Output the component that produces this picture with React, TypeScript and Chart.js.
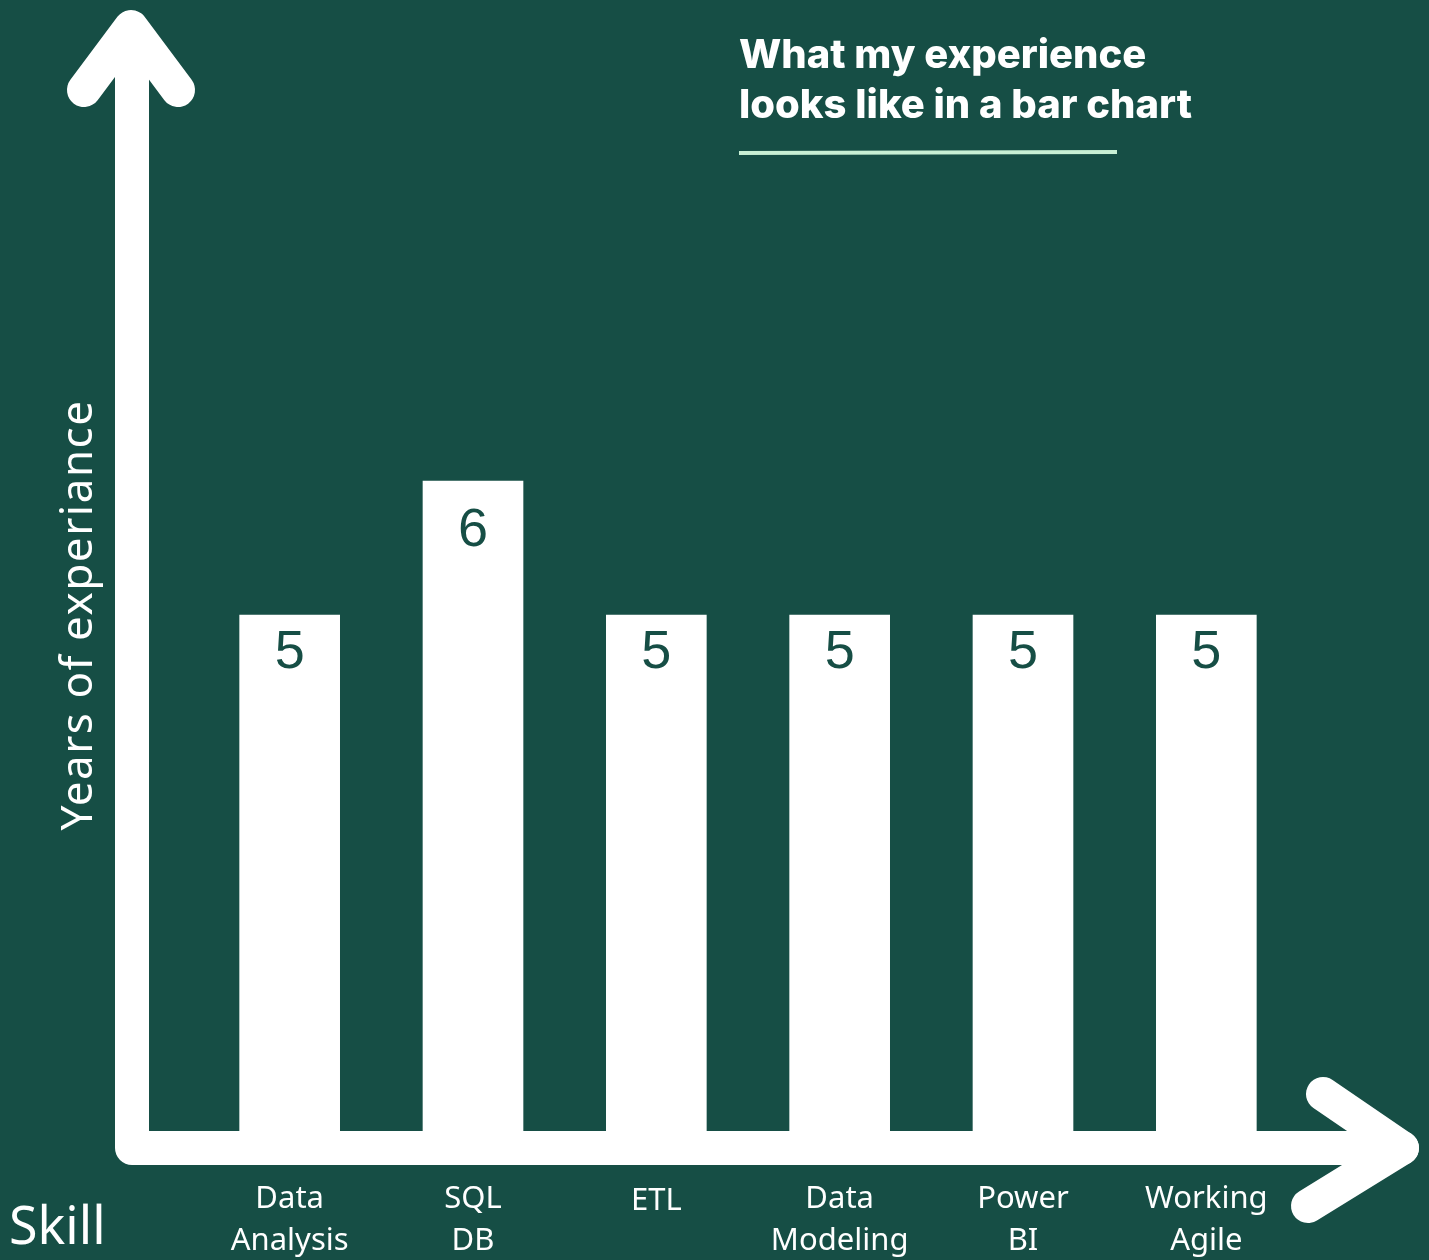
import React, { useEffect, useRef } from "react";
import { Chart, registerables } from "chart.js";

Chart.register(...registerables);

// ---- data ----
const skills: string[][] = [
  ["Data", "Analysis"],
  ["SQL", "DB"],
  ["ETL"],
  ["Data", "Modeling"],
  ["Power", "BI"],
  ["Working", "Agile"],
];
const years: number[] = [5, 6, 5, 5, 5, 5];
const titleLines: string[] = ["What my experience", "looks like in a bar chart"];
const yAxisTitle = "Years of experiance";
const xAxisTitle = "Skill";

// ---- style ----
const BG = "#164e45";
const WHITE = "#ffffff";
const MINT = "#c8f0d5";
const W = 1429;
const H = 1260;

const decorPlugin = {
  id: "decor",
  beforeDraw(chart: any) {
    const ctx = chart.ctx;
    ctx.save();
    ctx.fillStyle = BG;
    ctx.fillRect(0, 0, chart.width, chart.height);
    ctx.restore();
  },
  afterDatasetsDraw(chart: any) {
    const ctx = chart.ctx;
    const meta = chart.getDatasetMeta(0);
    ctx.save();
    ctx.fillStyle = BG;
    ctx.font = '54px "Liberation Sans", Arial, sans-serif';
    ctx.textAlign = "center";
    ctx.textBaseline = "middle";
    meta.data.forEach((bar: any, i: number) => {
      ctx.fillText(String(years[i]), bar.x, bar.y + (years[i] > 5 ? 50 : 38));
    });
    ctx.restore();
  },
  afterDraw(chart: any) {
    const ctx = chart.ctx;
    const area = chart.chartArea;
    const xScale = chart.scales.x;
    ctx.save();
    // axes arrows
    ctx.strokeStyle = WHITE;
    ctx.lineWidth = 34;
    ctx.lineCap = "round";
    ctx.lineJoin = "round";
    const ax = 132;
    const ay = area.bottom + 17;
    ctx.beginPath();
    ctx.moveTo(ax, 30);
    ctx.lineTo(ax, ay);
    ctx.lineTo(1402, ay);
    ctx.stroke();
    // up arrow head
    ctx.beginPath();
    ctx.moveTo(84, 90);
    ctx.lineTo(131, 27);
    ctx.lineTo(178, 90);
    ctx.stroke();
    // right arrow head
    ctx.beginPath();
    ctx.moveTo(1323, 1094);
    ctx.lineTo(1402, ay);
    ctx.lineTo(1308, 1206);
    ctx.stroke();

    // category labels
    ctx.fillStyle = WHITE;
    ctx.font = '31px "Noto Sans", "Open Sans", sans-serif';
    ctx.textAlign = "center";
    ctx.textBaseline = "middle";
    skills.forEach((lines, i) => {
      const x = xScale.getPixelForValue(i);
      if (lines.length === 1) {
        ctx.fillText(lines[0], x, 1201);
      } else {
        lines.forEach((l, j) => ctx.fillText(l, x, 1199 + j * 42));
      }
    });

    // x axis title
    ctx.textAlign = "left";
    ctx.textBaseline = "alphabetic";
    ctx.font = '52px "Noto Sans", "Open Sans", sans-serif';
    ctx.fillText(xAxisTitle, 9, 1244);

    // y axis title (rotated)
    ctx.save();
    ctx.translate(92, 615);
    ctx.rotate(-Math.PI / 2);
    ctx.textAlign = "center";
    ctx.textBaseline = "alphabetic";
    ctx.font = '44px "Noto Sans", "Open Sans", sans-serif';
    (ctx as any).letterSpacing = "1.5px";
    ctx.fillText(yAxisTitle, 0, 0);
    (ctx as any).letterSpacing = "0px";
    ctx.restore();

    // title
    ctx.textAlign = "left";
    ctx.textBaseline = "alphabetic";
    ctx.font = '800 40px Inter, "Noto Sans", sans-serif';
    titleLines.forEach((t, i) => ctx.fillText(t, 739, 68 + i * 50));

    // underline
    ctx.strokeStyle = MINT;
    ctx.lineWidth = 4;
    ctx.lineCap = "butt";
    ctx.beginPath();
    ctx.moveTo(739, 153);
    ctx.lineTo(1117, 152);
    ctx.stroke();
    ctx.restore();
  },
};

export default function App() {
  const canvasRef = useRef<HTMLCanvasElement | null>(null);

  useEffect(() => {
    const prevMargin = document.body.style.margin;
    document.body.style.margin = "0";
    const canvas = canvasRef.current;
    if (!canvas) return;
    const chart = new Chart(canvas, {
      type: "bar",
      data: {
        labels: skills.map((s) => s.join(" ")),
        datasets: [
          {
            data: years,
            backgroundColor: WHITE,
            borderWidth: 0,
            barThickness: 100,
          },
        ],
      },
      options: {
        responsive: false,
        animation: false,
        devicePixelRatio: 1,
        layout: { padding: { left: 198, right: 131, top: 0, bottom: 129 } },
        plugins: {
          legend: { display: false },
          tooltip: { enabled: false },
          title: { display: false },
        },
        scales: {
          x: { display: false },
          y: { display: false, min: 1.15, max: 9.59 },
        },
      },
      plugins: [decorPlugin],
    });
    return () => {
      chart.destroy();
      document.body.style.margin = prevMargin;
    };
  }, []);

  return (
    <div style={{ position: "fixed", left: 0, top: 0, width: W, height: H, background: BG }}>
      <canvas ref={canvasRef} width={W} height={H} style={{ display: "block" }} />
    </div>
  );
}
